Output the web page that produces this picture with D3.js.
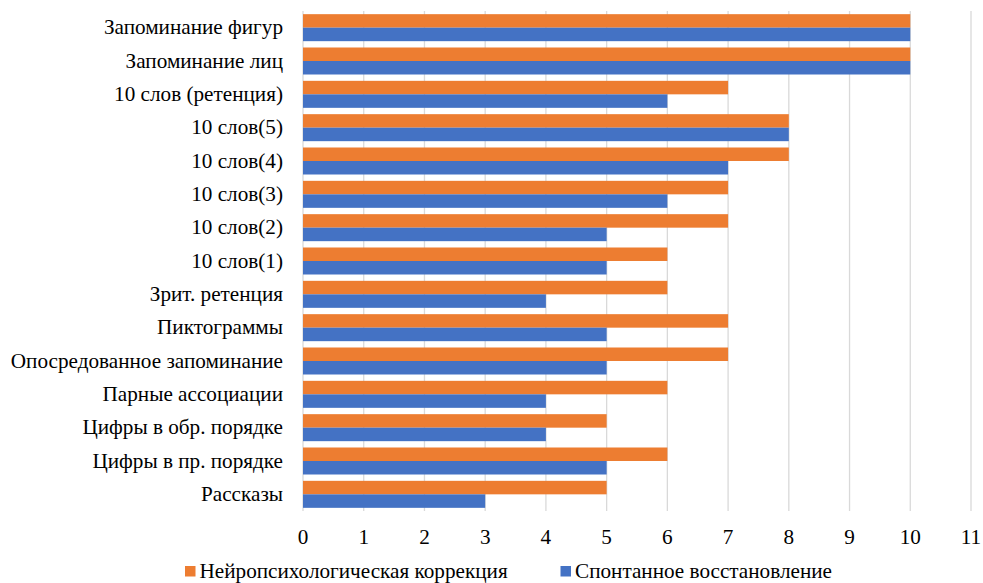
<!DOCTYPE html>
<html>
<head>
<meta charset="utf-8">
<script src="https://cdn.jsdelivr.net/npm/d3@7/dist/d3.min.js"></script>
</head>
<body style="margin:0">
<svg id="chart" width="983" height="583"></svg>
<script>
// Memory test scores, top to bottom
const categories = [
  "Запоминание фигур",
  "Запоминание лиц",
  "10 слов (ретенция)",
  "10 слов(5)",
  "10 слов(4)",
  "10 слов(3)",
  "10 слов(2)",
  "10 слов(1)",
  "Зрит. ретенция",
  "Пиктограммы",
  "Опосредованное запоминание",
  "Парные ассоциации",
  "Цифры в обр. порядке",
  "Цифры в пр. порядке",
  "Рассказы"
];
const correction = [10, 10, 7, 8, 8, 7, 7, 6, 6, 7, 7, 6, 5, 6, 5];
const spontaneous = [10, 10, 6, 8, 7, 6, 5, 5, 4, 5, 5, 4, 4, 5, 3];
const seriesNames = ["Нейропсихологическая коррекция", "Спонтанное восстановление"];
const seriesColors = ["#ED7D31", "#4472C4"];
const xTicks = [0, 1, 2, 3, 4, 5, 6, 7, 8, 9, 10, 11];

const FONT = "Liberation Serif";
const FS = 21.2;

const svg = d3.select("#chart");
const plot = { left: 303, right: 971, top: 11, bottom: 511 };

const x = d3.scaleLinear().domain([0, 11]).range([plot.left, plot.right]);
const y = d3.scaleBand().domain(categories).range([plot.top, plot.bottom]).paddingInner(0.19).paddingOuter(0.095);
const sub = d3.scaleBand().domain([0, 1]).range([0, y.bandwidth()]);

// vertical gridlines
svg.append("g").selectAll("line").data(xTicks).join("line")
  .attr("x1", d => x(d)).attr("x2", d => x(d))
  .attr("y1", plot.top).attr("y2", plot.bottom)
  .attr("stroke", "#D9D9D9").attr("stroke-width", 1.3);

// bars
const series = [correction, spontaneous];
series.forEach((vals, si) => {
  svg.append("g").selectAll("rect").data(categories).join("rect")
    .attr("x", x(0))
    .attr("y", d => y(d) + sub(si))
    .attr("width", (d, i) => x(vals[i]) - x(0))
    .attr("height", sub.bandwidth())
    .attr("fill", seriesColors[si]);
});

// x axis labels
svg.append("g").selectAll("text").data(xTicks).join("text")
  .attr("x", d => x(d))
  .attr("y", plot.bottom + 32.5)
  .attr("text-anchor", "middle")
  .attr("font-family", FONT)
  .attr("font-size", FS)
  .text(d => d3.format("d")(d));

// category labels
svg.append("g").selectAll("text").data(categories).join("text")
  .attr("x", x(0) - 20)
  .attr("y", d => y(d) + y.bandwidth() / 2 + 6.8)
  .attr("text-anchor", "end")
  .attr("font-family", FONT)
  .attr("font-size", FS)
  .text(d => d);

// legend
const legendItems = [{ x: 185 }, { x: 560.5 }];
legendItems.forEach((it, i) => {
  svg.append("rect").attr("x", it.x).attr("y", 566).attr("width", 10.5).attr("height", 10.5).attr("fill", seriesColors[i]);
  svg.append("text").attr("x", it.x + 14.5).attr("y", 578.3)
    .attr("font-family", FONT).attr("font-size", FS)
    .text(seriesNames[i]);
});
</script>
</body>
</html>
